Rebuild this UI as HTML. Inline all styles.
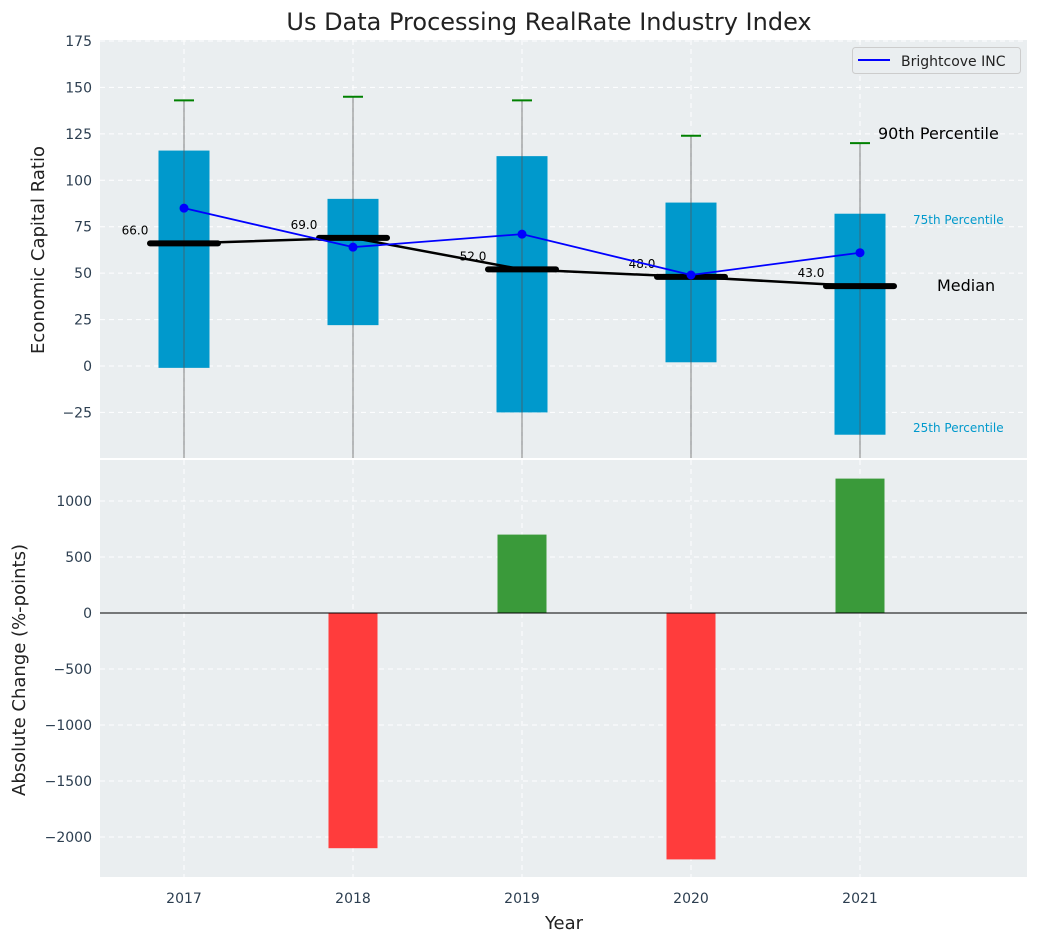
<!DOCTYPE html>
<html><head><meta charset="utf-8"><style>
body{margin:0;background:#fff;font-family:"Liberation Sans","DejaVu Sans",sans-serif}
svg text{font-family:"DejaVu Sans","Liberation Sans",sans-serif}
</style></head><body>
<svg id="c" width="1039" height="942" xmlns="http://www.w3.org/2000/svg"></svg>
<script>
const years=["2017","2018","2019","2020","2021"];
const p90=[143,145,143,124,120];
const p75=[116,90,113,88,82];
const p25=[-1,22,-25,2,-37];
const medians=[66,69,52,48,43];
const brightcove=[85,64,71,49,61];
const changes=[0,-2100,700,-2200,1200];
const topTicks=[-25,0,25,50,75,100,125,150,175];
const botTicks=[-2000,-1500,-1000,-500,0,500,1000];

const NS="http://www.w3.org/2000/svg";
const svg=document.getElementById('c');
function el(t,a,p){const e=document.createElementNS(NS,t);for(const k in a)e.setAttribute(k,a[k]);(p||svg).appendChild(e);return e;}
const L=100,R=1027,T1=40,B1=458,T2=460,B2=877;
const xs=i=>99.5+(i+0.5)*169;
const y1=v=>366-(v)*325/175;
const y2=v=>613-v*0.112;

let r=el('rect',{x:L,y:T1,width:R-L,height:B1-T1,fill:'#eaeef0'});

r=el('rect',{x:L,y:T2,width:R-L,height:B2-T2,fill:'#eaeef0'});


topTicks.forEach(t=>{const y=y1(t);el('line',{x1:L,x2:R,y1:y,y2:y,stroke:'#fff','stroke-dasharray':'5,4','stroke-width':1});
 const tx=el('text',{x:L-8,y:y+5,'text-anchor':'end','font-size':14,fill:'#2c3e50'});tx.textContent=t===-25?'\u221225':t;
 });
botTicks.forEach(t=>{const y=y2(t);el('line',{x1:L,x2:R,y1:y,y2:y,stroke:'#fff','stroke-dasharray':'5,4','stroke-width':1});
 const tx=el('text',{x:L-8,y:y+5,'text-anchor':'end','font-size':14,fill:'#2c3e50'});tx.textContent=String(t).replace('-','\u2212');
 });
years.forEach((yr,i)=>{const x=xs(i);
 el('line',{x1:x,x2:x,y1:T1,y2:B1,stroke:'#fff','stroke-dasharray':'5,4'});
 el('line',{x1:x,x2:x,y1:T2,y2:B2,stroke:'#fff','stroke-dasharray':'5,4'});
 const tx=el('text',{x:x,y:903,'text-anchor':'middle','font-size':14,fill:'#2c3e50'});tx.textContent=yr;
 });
el('rect',{x:L,y:B1,width:R-L,height:2,fill:'#fff'});

const bw=51, mw=68;
years.forEach((yr,i)=>{const x=xs(i);
 const b=el('rect',{x:x-bw/2,y:y1(p75[i]),width:bw,height:y1(p25[i])-y1(p75[i]),fill:'#0099cc'});
 
 el('line',{x1:x,x2:x,y1:y1(p90[i]),y2:B1,stroke:'#555','stroke-opacity':0.6,'stroke-width':1.2});
 const c=el('line',{x1:x-10,x2:x+10,y1:y1(p90[i]),y2:y1(p90[i]),stroke:'green','stroke-width':2});
 
});
let pts=medians.map((m,i)=>xs(i)+','+y1(m)).join(' ');
el('polyline',{points:pts,fill:'none',stroke:'#000','stroke-width':2.5});
medians.forEach((m,i)=>{const x=xs(i),y=y1(m);
 const ln=el('line',{x1:x-mw/2,x2:x+mw/2,y1:y,y2:y,stroke:'#000','stroke-width':6,'stroke-linecap':'round'});
 
 const t=el('text',{x:x-49,y:y-9,'text-anchor':'middle','font-size':12,fill:'#000'});t.textContent=m.toFixed(1);
 });
pts=brightcove.map((v,i)=>xs(i)+','+y1(v)).join(' ');
el('polyline',{points:pts,fill:'none',stroke:'blue','stroke-width':1.8});
brightcove.forEach((v,i)=>{const c=el('circle',{cx:xs(i),cy:y1(v),r:4.5,fill:'blue'});
 });

function txt(s,x,y,sz,col,name,anchor){const t=el('text',{x:x,y:y,'font-size':sz,fill:col,'text-anchor':anchor||'start'});t.textContent=s;
 return t;}
txt('90th Percentile',878,139,16,'#000','p90-annotation');
txt('75th Percentile',913,224,12,'#0099cc','p75-annotation');
txt('Median',937,291,16,'#000','median-annotation');
txt('25th Percentile',913,432,12,'#0099cc','p25-annotation');

const lg=el('g',{});
el('rect',{x:852.5,y:47.5,width:168,height:26,rx:3,fill:'#eaeef0',stroke:'#ccc'},lg);
el('line',{x1:858,x2:890,y1:60,y2:60,stroke:'blue','stroke-width':2},lg);
const lt=el('text',{x:901,y:66,'font-size':14,fill:'#222'},lg);lt.textContent='Brightcove INC';

years.forEach((yr,i)=>{const v=changes[i];if(!v)return;const x=xs(i);
 const b=el('rect',{x:x-24.5,y:Math.min(y2(0),y2(v)),width:49,height:Math.abs(y2(v)-y2(0)),fill:v>0?'#3a9a3a':'#ff3c3c'});
 });
el('line',{x1:L,x2:R,y1:y2(0),y2:y2(0),stroke:'#000','stroke-width':1});

txt('Us Data Processing RealRate Industry Index',549,30,24,'#222','chart-title','middle');
txt('Year',564,929,18,'#222','x-axis-title','middle');
let t=txt('Economic Capital Ratio',44,250,18,'#222','top-y-axis-title','middle');t.setAttribute('transform','rotate(-90 44 250)');
t=txt('Absolute Change (%-points)',25,670,18,'#222','bottom-y-axis-title','middle');t.setAttribute('transform','rotate(-90 25 670)');
</script>
</body></html>
